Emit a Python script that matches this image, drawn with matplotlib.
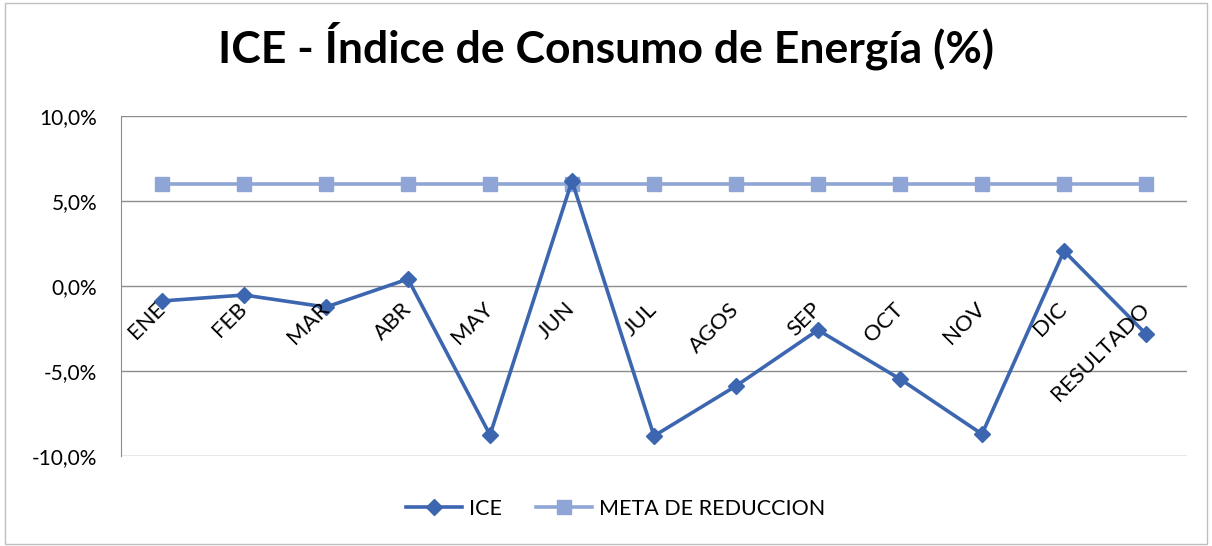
import matplotlib.pyplot as plt
from matplotlib.patches import Rectangle
from matplotlib.ticker import FuncFormatter, MultipleLocator
import matplotlib.transforms as mtransforms

plt.rcParams['font.family'] = ['Lato', 'DejaVu Sans']

months = ["ENE", "FEB", "MAR", "ABR", "MAY", "JUN", "JUL", "AGOS", "SEP",
          "OCT", "NOV", "DIC", "RESULTADO"]
ice = [-0.88, -0.53, -1.24, 0.41, -8.76, 6.18, -8.82, -5.88, -2.59,
       -5.47, -8.71, 2.06, -2.82]
meta = [6.0] * 13

c_ice = "#3D66B0"
c_meta = "#8FA5D6"

fig = plt.figure(figsize=(12.12, 5.46), dpi=100)
ax = fig.add_axes([121 / 1212, 1 - 456 / 546, (1187 - 121) / 1212, (456 - 116) / 546])

x = list(range(len(months)))
ax.plot(x, ice, color=c_ice, lw=2.6, marker="D", ms=8, label="ICE", zorder=3)
ax.plot(x, meta, color=c_meta, lw=2.6, marker="s", ms=10, label="META DE REDUCCION", zorder=2)

ax.set_xlim(-0.5, len(months) - 0.5)
ax.set_ylim(-10, 10)
ax.yaxis.set_major_locator(MultipleLocator(5))
ax.yaxis.set_major_formatter(FuncFormatter(lambda v, p: f"{v:.1f}%".replace(".", ",")))
ax.tick_params(axis="y", length=0, pad=17, labelsize=15)
ax.set_xticks([])
ax.grid(axis="y", color="#8C8C8C", lw=1)
for s in ["top", "right", "bottom"]:
    ax.spines[s].set_visible(False)
ax.spines["left"].set_color("#8C8C8C")

# category labels sit next to the zero line
off = mtransforms.offset_copy(ax.transData, fig=fig, x=7, y=-13, units="dots")
for i, m in enumerate(months):
    ax.text(i, 0, m, rotation=45, ha="right", va="top", fontsize=16,
            transform=off)

fig.suptitle("ICE - Índice de Consumo de Energía (%)", fontsize=32,
             fontweight="bold", y=0.96)

fig.legend(loc="center", bbox_to_anchor=(0.508, 0.068), ncol=2, frameon=False,
           fontsize=15.5, handlelength=2.6, handletextpad=0.3, columnspacing=1.6)

fig.patches.append(Rectangle((0.004, 0.004), 0.992, 0.99, transform=fig.transFigure,
                             fill=False, edgecolor="#BFBFBF", lw=1))

fig.savefig("out.png", dpi=100)
